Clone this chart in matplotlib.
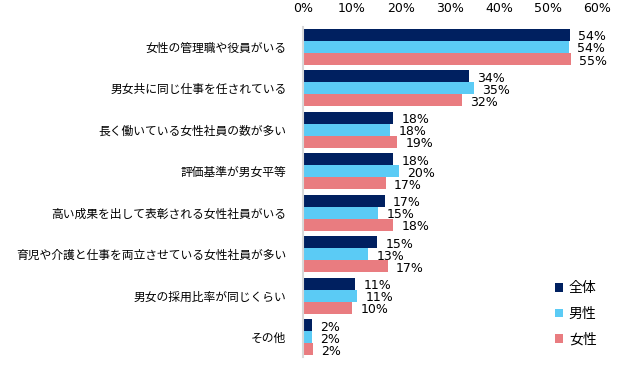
import matplotlib
matplotlib.use("Agg")
import matplotlib.pyplot as plt
import numpy as np

plt.rcParams['font.family'] = ['Noto Sans CJK JP', 'DejaVu Sans']

categories = [
    "女性の管理職や役員がいる",
    "男女共に同じ仕事を任されている",
    "長く働いている女性社員の数が多い",
    "評価基準が男女平等",
    "高い成果を出して表彰される女性社員がいる",
    "育児や介護と仕事を両立させている女性社員が多い",
    "男女の採用比率が同じくらい",
    "その他",
]
series_names = ["全体", "男性", "女性"]
zentai = [54.4, 33.9, 18.4, 18.4, 16.7, 15.1, 10.6, 1.8]
dansei = [54.2, 34.9, 17.8, 19.6, 15.3, 13.3, 11.0, 1.8]
josei = [54.7, 32.4, 19.2, 16.9, 18.4, 17.3, 10.0, 2.0]
labels_zentai = ["54%", "34%", "18%", "18%", "17%", "15%", "11%", "2%"]
labels_dansei = ["54%", "35%", "18%", "20%", "15%", "13%", "11%", "2%"]
labels_josei = ["55%", "32%", "19%", "17%", "18%", "17%", "10%", "2%"]
xticks = [0, 10, 20, 30, 40, 50, 60]
xtick_labels = ["0%", "10%", "20%", "30%", "40%", "50%", "60%"]

colors = ["#002060", "#5BCBF5", "#E97C80"]
num_font = ['DejaVu Sans']

fig = plt.figure(figsize=(6.25, 3.69), dpi=100)
ax = fig.add_axes([303/625, 12/369, 294/625, 330/369])

y = np.arange(len(categories))
h = 0.29
all_vals = [zentai, dansei, josei]
all_labels = [labels_zentai, labels_dansei, labels_josei]
for i, (vals, labs) in enumerate(zip(all_vals, all_labels)):
    pos = y + (i - 1) * h
    ax.barh(pos, vals, height=h, color=colors[i], label=series_names[i])
    for p, v, l in zip(pos, vals, labs):
        ax.annotate(l, (v, p), xytext=(6, -1.5), textcoords="offset points",
                    ha="left", va="center", fontsize=9, family=num_font,
                    color="#000000")

ax.set_xlim(0, 60)
ax.set_ylim(len(categories) - 0.52, -0.48)
ax.set_yticks(y)
ax.set_yticklabels(categories, fontsize=8.5)
ax.set_xticks(xticks)
ax.set_xticklabels(xtick_labels, fontsize=9, family=num_font)
ax.xaxis.tick_top()
ax.tick_params(axis='x', length=0, pad=9)
ax.tick_params(axis='y', length=0, pad=12)
for s in ["top", "right", "bottom"]:
    ax.spines[s].set_visible(False)
ax.spines["left"].set_color("#D9D9D9")
ax.spines["left"].set_linewidth(1.5)

leg = ax.legend(loc="upper left", bbox_to_anchor=(555/625, 88/369), bbox_transform=fig.transFigure,
                frameon=False, fontsize=10, handlelength=0.6, handleheight=0.6,
                labelspacing=0.85, handletextpad=0.4, borderaxespad=0, borderpad=0)

fig.savefig("out.png", dpi=100)
